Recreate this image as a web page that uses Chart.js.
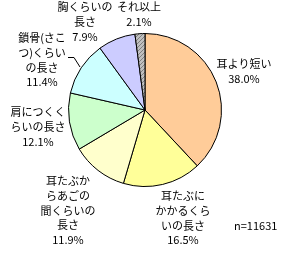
<!DOCTYPE html>
<html>
<head>
<meta charset="utf-8">
<script src="https://cdn.jsdelivr.net/npm/chart.js@4/dist/chart.umd.min.js"></script>
<style>
	html, body { margin: 0; padding: 0; background: #fff; }
	#wrap { width: 282px; height: 258px; }
</style>
</head>
<body>
<div id="wrap"><canvas id="chart1" width="282" height="258"></canvas></div>
<script>
// データ
var categories = ['耳より短い', '耳たぶにかかるくらいの長さ', '耳たぶからあごの間くらいの長さ', '肩につくくらいの長さ', '鎖骨(さこつ)くらいの長さ', '胸くらいの長さ', 'それ以上'];
var labelLines = [
	['耳より短い'],
	['耳たぶに', 'かかるくら', 'いの長さ'],
	['耳たぶか', 'らあごの', '間くらいの', '長さ'],
	['肩につくく', 'らいの長さ'],
	['鎖骨(さこ', 'つ)くらい', 'の長さ'],
	['胸くらいの', '長さ'],
	['それ以上']
];
var values = [38.0, 16.5, 11.9, 12.1, 11.4, 7.9, 2.1];
var sampleNote = 'n=11631';

// 色
var colors = ['#FFCC99', '#FFFF99', '#FFFFCC', '#CCFFCC', '#CCFFFF', '#CCCCFF', null];

// それ以上 の網掛け
function makePattern() {
	var c = document.createElement('canvas');
	c.width = 4; c.height = 4;
	var g = c.getContext('2d');
	g.fillStyle = '#C0C0C0';
	g.fillRect(0, 0, 4, 4);
	g.fillStyle = '#808080';
	g.fillRect(0, 0, 1, 1);
	g.fillRect(2, 2, 1, 1);
	g.fillRect(1, 3, 1, 1);
	g.fillRect(3, 1, 1, 1);
	return document.getElementById('chart1').getContext('2d').createPattern(c, 'repeat');
}
colors[6] = makePattern();

// ラベル位置 (円の中心からのずれ)
var labelPos = [
	[99, -46], [38, 86], [-77, 71], [-107, 2], [-103, -72], [-60, -103], [-6, -103]
];
var lineH = 14.7;

var labelPlugin = {
	id: 'pieLabels',
	afterDraw: function(chart) {
		var ctx = chart.ctx;
		var arc = chart.getDatasetMeta(0).data[0];
		var cx = arc.x, cy = arc.y;
		ctx.save();
		ctx.fillStyle = '#000';
		ctx.font = '11px "Noto Sans CJK JP"';
		ctx.textAlign = 'center';
		ctx.textBaseline = 'middle';
		for (var i = 0; i < values.length; i++) {
			var lines = labelLines[i].concat([values[i].toFixed(1) + '%']);
			var x = cx + labelPos[i][0];
			var y = cy + labelPos[i][1];
			for (var j = 0; j < lines.length; j++) {
				ctx.fillText(lines[j], x, y + j * lineH);
			}
		}
		// 引き出し線 (鎖骨)
		ctx.strokeStyle = '#000';
		ctx.lineWidth = 1;
		ctx.beginPath();
		ctx.moveTo(cx - 77, cy - 52.5);
		ctx.lineTo(cx - 71, cy - 52.5);
		ctx.lineTo(cx - 65, cy - 43);
		ctx.stroke();
		ctx.textAlign = 'left';
		ctx.fillText(sampleNote, 234, 226);
		ctx.restore();
	}
};

var config1 = {
	type: 'pie',
	data: {
		labels: categories,
		datasets: [{
			data: values,
			backgroundColor: colors,
			borderColor: '#000',
			borderWidth: 1
		}]
	},
	options: {
		responsive: false,
		animation: false,
		layout: {
			padding: { left: 68, right: 60, top: 33, bottom: 71 }
		},
		plugins: {
			legend: { display: false },
			tooltip: { enabled: false }
		}
	},
	plugins: [labelPlugin]
};

var chart1 = new Chart(document.getElementById('chart1'), config1);
</script>
</body>
</html>
